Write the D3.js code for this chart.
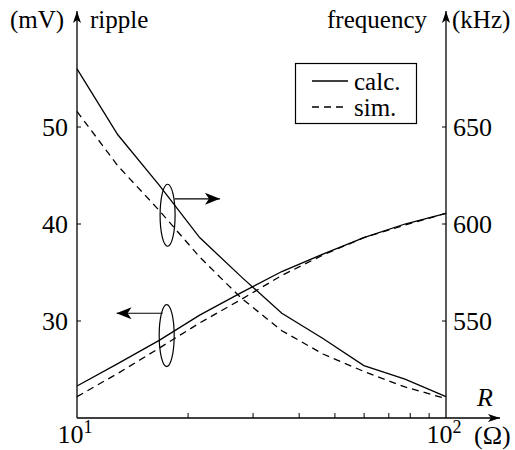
<!DOCTYPE html>
<html>
<head>
<meta charset="utf-8">
<script src="https://cdn.jsdelivr.net/npm/d3@7"></script>
<style>
  body { margin: 0; background: #fff; }
</style>
</head>
<body>
<div id="chart"></div>
<script>
// load resistance (ohm), log spaced points
var resistance = [10, 12.9, 16.7, 21.5, 27.8, 35.9, 46.4, 59.9, 77.4, 100];

// ripple in mV (left axis)
var rippleCalc = [23.3, 25.6, 28.0, 30.6, 32.9, 35.1, 36.9, 38.6, 40.0, 41.1];
var rippleSim  = [22.2, 24.6, 27.2, 29.8, 32.2, 34.7, 36.8, 38.6, 39.9, 41.1];

// switching frequency in kHz (right axis)
var freqCalc = [680, 646, 620, 593, 573, 554, 541, 527, 520, 511];
var freqSim  = [658, 630, 607, 583, 562, 545, 533, 524, 516, 510];

var rippleTicks = [30, 40, 50];
var freqTicks = [550, 600, 650];
var minorTicks = [20, 30, 40, 50, 60, 70, 80, 90];

var width = 515, height = 450;
var plotLeft = 77, plotRight = 446, plotBottom = 418, plotTop = 30;
var serif = "'Liberation Serif', 'Times New Roman', 'DejaVu Serif', serif";

var svg = d3.select("#chart").append("svg")
  .attr("width", width)
  .attr("height", height)
  .attr("font-family", serif);

var x = d3.scaleLog().domain([10, 100]).range([plotLeft, plotRight]);
var yRipple = d3.scaleLinear().domain([20, 60]).range([plotBottom, plotTop]);
var yFreq = d3.scaleLinear().domain([500, 700]).range([plotBottom, plotTop]);

// arrow heads
var defs = svg.append("defs");
defs.append("marker")
  .attr("id", "axisArrow")
  .attr("viewBox", "0 0 12 8")
  .attr("refX", 12).attr("refY", 4)
  .attr("markerWidth", 12).attr("markerHeight", 8)
  .attr("markerUnits", "userSpaceOnUse")
  .attr("orient", "auto")
  .append("path").attr("d", "M0,0 L12,4 L0,8 L3,4 Z").attr("fill", "#000");
defs.append("marker")
  .attr("id", "noteArrow")
  .attr("viewBox", "0 0 15 12")
  .attr("refX", 15).attr("refY", 6)
  .attr("markerWidth", 15).attr("markerHeight", 12)
  .attr("markerUnits", "userSpaceOnUse")
  .attr("orient", "auto")
  .append("path").attr("d", "M0,0 L15,6 L0,12 L4,6 Z").attr("fill", "#000");

// axes lines with arrows
svg.append("line")
  .attr("x1", plotLeft).attr("y1", plotBottom).attr("x2", plotLeft).attr("y2", 11)
  .attr("stroke", "#000").attr("stroke-width", 1.3)
  .attr("marker-end", "url(#axisArrow)");
svg.append("line")
  .attr("x1", plotRight).attr("y1", plotBottom).attr("x2", plotRight).attr("y2", 11)
  .attr("stroke", "#000").attr("stroke-width", 1.3)
  .attr("marker-end", "url(#axisArrow)");
svg.append("line")
  .attr("x1", plotLeft).attr("y1", plotBottom).attr("x2", 500).attr("y2", plotBottom)
  .attr("stroke", "#000").attr("stroke-width", 1.3)
  .attr("marker-end", "url(#axisArrow)");

// ticks
svg.selectAll(".ltick").data(rippleTicks).enter().append("line")
  .attr("x1", plotLeft).attr("x2", plotLeft + 4)
  .attr("y1", function(d) { return yRipple(d); })
  .attr("y2", function(d) { return yRipple(d); })
  .attr("stroke", "#000").attr("stroke-width", 1);
svg.selectAll(".llabel").data(rippleTicks).enter().append("text")
  .attr("x", plotLeft - 9)
  .attr("y", function(d) { return yRipple(d) + 9; })
  .attr("text-anchor", "end")
  .style("font-size", "26px")
  .text(function(d) { return d; });

svg.selectAll(".rtick").data(freqTicks).enter().append("line")
  .attr("x1", plotRight).attr("x2", plotRight - 4)
  .attr("y1", function(d) { return yFreq(d); })
  .attr("y2", function(d) { return yFreq(d); })
  .attr("stroke", "#000").attr("stroke-width", 1);
svg.selectAll(".rlabel").data(freqTicks).enter().append("text")
  .attr("x", plotRight + 7)
  .attr("y", function(d) { return yFreq(d) + 9; })
  .style("font-size", "26px")
  .text(function(d) { return d; });

svg.selectAll(".xtick").data(minorTicks).enter().append("line")
  .attr("x1", function(d) { return x(d); })
  .attr("x2", function(d) { return x(d); })
  .attr("y1", plotBottom).attr("y2", plotBottom - 5)
  .attr("stroke", "#000").attr("stroke-width", 1);

[10, 100].forEach(function(d, i) {
  var t = svg.append("text")
    .attr("x", x(d) - 2)
    .attr("y", 443)
    .attr("text-anchor", "middle")
    .style("font-size", "26px");
  t.append("tspan").text("10");
  t.append("tspan").attr("dy", -10).style("font-size", "18px").text(i === 0 ? "1" : "2");
});

// axis titles
svg.append("text").attr("x", 10).attr("y", 28).style("font-size", "25px").text("(mV)");
svg.append("text").attr("x", 90).attr("y", 28).style("font-size", "25px").text("ripple");
svg.append("text").attr("x", 427).attr("y", 28).attr("text-anchor", "end").style("font-size", "25px").text("frequency");
svg.append("text").attr("x", 452).attr("y", 28).style("font-size", "25px").text("(kHz)");
svg.append("text").attr("x", 477).attr("y", 406).style("font-size", "26px").style("font-style", "italic").text("R");
svg.append("text").attr("x", 474).attr("y", 444).style("font-size", "26px").text("(\u03A9)");

// curves
var rippleLine = d3.line()
  .x(function(d) { return x(d[0]); })
  .y(function(d) { return yRipple(d[1]); });
var freqLine = d3.line()
  .x(function(d) { return x(d[0]); })
  .y(function(d) { return yFreq(d[1]); });

function drawCurve(gen, values, dashed) {
  svg.append("path")
    .datum(d3.zip(resistance, values))
    .attr("d", gen)
    .attr("fill", "none")
    .attr("stroke", "#000")
    .attr("stroke-width", 1.3)
    .attr("stroke-dasharray", dashed ? "7,5" : null);
}
drawCurve(rippleLine, rippleCalc, false);
drawCurve(rippleLine, rippleSim, true);
drawCurve(freqLine, freqCalc, false);
drawCurve(freqLine, freqSim, true);

// annotations: ellipses with arrows pointing to their axis
function note(cx, cy, ay, tipR) {
  var px = x(cx), py = yRipple(cy);
  svg.append("ellipse")
    .attr("cx", px).attr("cy", py).attr("rx", 7.5).attr("ry", 31)
    .attr("fill", "none").attr("stroke", "#000").attr("stroke-width", 1.2);
  var startX = x(tipR) > px ? px + 7 : px - 4;
  svg.append("line")
    .attr("x1", startX).attr("y1", yRipple(ay))
    .attr("x2", x(tipR)).attr("y2", yRipple(ay))
    .attr("stroke", "#000").attr("stroke-width", 1.2)
    .attr("marker-end", "url(#noteArrow)");
}
note(17.6, 40.9, 42.6, 24.4);
note(17.5, 28.5, 30.8, 12.8);

// legend
svg.append("rect")
  .attr("x", 295.5).attr("y", 63.5).attr("width", 121).attr("height", 60)
  .attr("fill", "#fff").attr("stroke", "#000").attr("stroke-width", 1.2);
svg.append("line").attr("x1", 312).attr("x2", 348).attr("y1", 81).attr("y2", 81)
  .attr("stroke", "#000").attr("stroke-width", 1.3);
svg.append("line").attr("x1", 312).attr("x2", 348).attr("y1", 107).attr("y2", 107)
  .attr("stroke", "#000").attr("stroke-width", 1.3).attr("stroke-dasharray", "7,5");
svg.append("text").attr("x", 354).attr("y", 90).style("font-size", "25px").text("calc.");
svg.append("text").attr("x", 354).attr("y", 116).style("font-size", "25px").text("sim.");
</script>
</body>
</html>
